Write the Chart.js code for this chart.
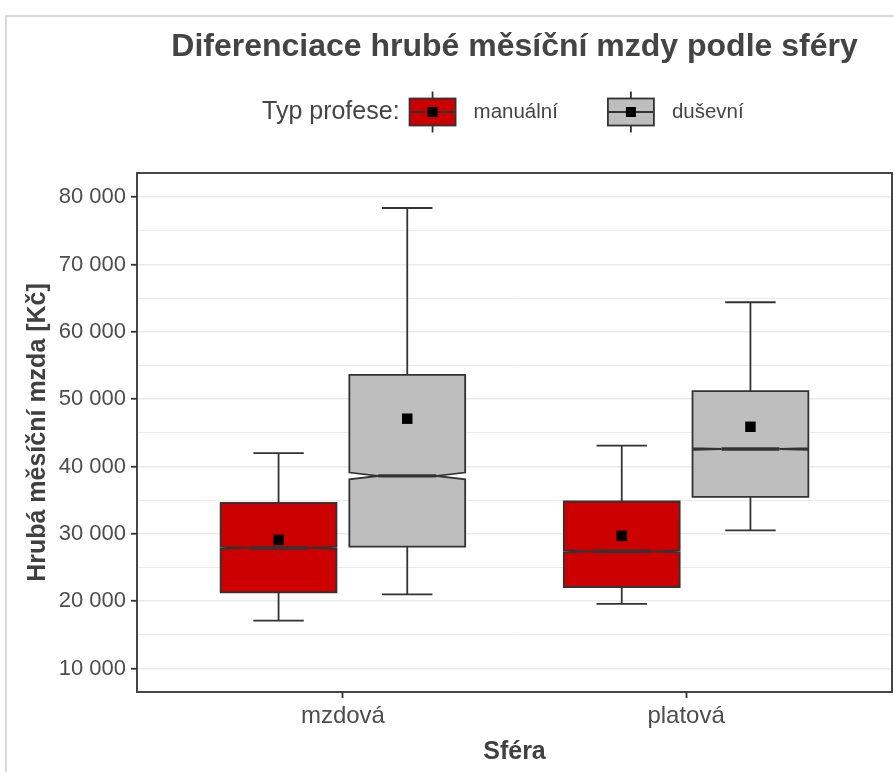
<!DOCTYPE html>
<html><head><meta charset="utf-8">
<script src="https://cdn.jsdelivr.net/npm/chart.js@4"></script>
<style>
html,body{margin:0;padding:0;background:#fff;}
#wrap{position:relative;width:894px;height:772px;overflow:hidden;background:#fff;}
#frame{position:absolute;left:5px;top:15px;width:900px;height:800px;border-left:2px solid #dadada;border-top:2px solid #dadada;box-sizing:border-box;}
canvas{position:absolute;left:0;top:0;}
</style></head>
<body><div id="wrap"><div id="frame"></div><canvas id="c" width="894" height="772"></canvas></div>
<script>
// ---- data ----
const categories = ['mzdová', 'platová'];
const seriesNames = ['manuální', 'duševní'];
const legendTitle = 'Typ profese:';

const manualMin    = [17100, 19600];
const manualQ1     = [21300, 22100];
const manualMedian = [27900, 27400];
const manualQ3     = [34600, 34800];
const manualMax    = [42000, 43100];
const manualMean   = [29100, 29700];
const manualNotch  = [150, 150];

const dusevniMin    = [21000, 30500];
const dusevniQ1     = [28100, 35500];
const dusevniMedian = [38600, 42600];
const dusevniQ3     = [53600, 51200];
const dusevniMax    = [78400, 64400];
const dusevniMean   = [47100, 45900];
const dusevniNotch  = [500, 130];

const yGridValues = [10000, 15000, 20000, 25000, 30000, 35000, 40000, 45000, 50000, 55000, 60000, 65000, 70000, 75000, 80000];
const yTickValues = [10000, 20000, 30000, 40000, 50000, 60000, 70000, 80000];
const yTickLabels = ['10 000', '20 000', '30 000', '40 000', '50 000', '60 000', '70 000', '80 000'];

// ---- styling / layout constants ----
const FONT = '"Liberation Sans", Arial, sans-serif';
const DODGE = 0.1875, BOXW = 0.3375, CAPW = 0.147;
const LINE = '#333333';
const LW = 1.8;
const fills = ['#CC0000', '#BEBEBE'];

const stats = [
  {min: manualMin, q1: manualQ1, med: manualMedian, q3: manualQ3, max: manualMax, notch: manualNotch},
  {min: dusevniMin, q1: dusevniQ1, med: dusevniMedian, q3: dusevniQ3, max: dusevniMax, notch: dusevniNotch}
];
const means = [manualMean, dusevniMean];
const offsets = [-DODGE, DODGE];

const datasets = seriesNames.map((name, s) => ({
  label: name,
  data: categories.map((c, i) => ({x: i + 1 + offsets[s], y: means[s][i]})),
  backgroundColor: fills[s],
  pointStyle: 'rect',
  pointRadius: 7.4,
  pointHoverRadius: 7.4,
  pointBackgroundColor: '#000',
  pointBorderColor: '#000',
  pointBorderWidth: 0
}));

const boxPlugin = {
  id: 'boxes',
  beforeDatasetsDraw(chart) {
    const {ctx, scales: {x, y}} = chart;
    ctx.save();
    ctx.strokeStyle = LINE;
    ctx.lineJoin = 'miter';
    stats.forEach((st, s) => {
      categories.forEach((c, i) => {
        const cx = i + 1 + offsets[s];
        const xc = x.getPixelForValue(cx);
        const L = x.getPixelForValue(cx - BOXW / 2), R = x.getPixelForValue(cx + BOXW / 2);
        const cL = x.getPixelForValue(cx - CAPW / 2), cR = x.getPixelForValue(cx + CAPW / 2);
        const yMin = y.getPixelForValue(st.min[i]), yMax = y.getPixelForValue(st.max[i]);
        const yQ1 = y.getPixelForValue(st.q1[i]), yQ3 = y.getPixelForValue(st.q3[i]);
        const yMed = y.getPixelForValue(st.med[i]);
        const yNu = y.getPixelForValue(st.med[i] + st.notch[i]);
        const yNl = y.getPixelForValue(st.med[i] - st.notch[i]);
        const ind = (R - L) * 0.25;
        ctx.lineWidth = LW;
        ctx.beginPath();
        ctx.moveTo(xc, yQ3); ctx.lineTo(xc, yMax);
        ctx.moveTo(xc, yQ1); ctx.lineTo(xc, yMin);
        ctx.moveTo(cL, yMax); ctx.lineTo(cR, yMax);
        ctx.moveTo(cL, yMin); ctx.lineTo(cR, yMin);
        ctx.stroke();
        ctx.beginPath();
        ctx.moveTo(L, yQ3); ctx.lineTo(L, yNu); ctx.lineTo(L + ind, yMed); ctx.lineTo(L, yNl);
        ctx.lineTo(L, yQ1); ctx.lineTo(R, yQ1); ctx.lineTo(R, yNl); ctx.lineTo(R - ind, yMed);
        ctx.lineTo(R, yNu); ctx.lineTo(R, yQ3); ctx.closePath();
        ctx.fillStyle = fills[s];
        ctx.fill();
        ctx.stroke();
        ctx.lineWidth = 3.4;
        ctx.beginPath();
        ctx.moveTo(L + ind, yMed); ctx.lineTo(R - ind, yMed);
        ctx.stroke();
      });
    });
    ctx.restore();
  },
  afterDatasetsDraw(chart) {
    const {ctx, chartArea: a} = chart;
    ctx.save();
    ctx.strokeStyle = LINE;
    ctx.lineWidth = LW;
    ctx.strokeRect(a.left, a.top, a.right - a.left, a.bottom - a.top);
    ctx.restore();
  }
};

function drawKey(ctx, x, cy, fill) {
  const w = 46, h = 27, wh = 7;
  ctx.strokeStyle = LINE;
  ctx.lineWidth = LW;
  ctx.beginPath();
  ctx.moveTo(x + w / 2, cy - h / 2 - wh); ctx.lineTo(x + w / 2, cy - h / 2);
  ctx.moveTo(x + w / 2, cy + h / 2); ctx.lineTo(x + w / 2, cy + h / 2 + wh);
  ctx.stroke();
  ctx.fillStyle = fill;
  ctx.fillRect(x, cy - h / 2, w, h);
  ctx.strokeRect(x, cy - h / 2, w, h);
  ctx.beginPath(); ctx.moveTo(x, cy); ctx.lineTo(x + w, cy); ctx.stroke();
  ctx.fillStyle = '#000';
  ctx.fillRect(x + w / 2 - 5, cy - 5, 10, 10);
}

const legendPlugin = {
  id: 'typLegend',
  afterDraw(chart) {
    const ctx = chart.ctx;
    const cy = 112, startX = 262;
    const keyW = 46, gapTitle = 10, gapKey = 18, gapItem = 50;
    ctx.save();
    ctx.textBaseline = 'middle';
    ctx.textAlign = 'left';
    let xx = startX;
    ctx.fillStyle = '#444444';
    ctx.font = '25px ' + FONT;
    ctx.fillText(legendTitle, xx, cy);
    xx += ctx.measureText(legendTitle).width + gapTitle;
    chart.data.datasets.forEach((d) => {
      drawKey(ctx, xx, cy, d.backgroundColor);
      xx += keyW + gapKey;
      ctx.fillStyle = '#444444';
      ctx.font = '20.5px ' + FONT;
      ctx.fillText(d.label, xx, cy);
      xx += ctx.measureText(d.label).width + gapItem;
    });
    ctx.restore();
  }
};

new Chart(document.getElementById('c'), {
  type: 'scatter',
  data: {datasets},
  options: {
    responsive: false,
    animation: false,
    events: [],
    layout: {autoPadding: false, padding: {left: 0, right: 2, top: 0, bottom: 0}},
    plugins: {
      legend: {display: false},
      tooltip: {enabled: false},
      title: {
        display: true,
        text: 'Diferenciace hrubé měsíční mzdy podle sféry',
        fullSize: false,
        color: '#444444',
        font: {family: FONT, size: 32, weight: 'bold'},
        padding: {top: 28, bottom: 106.6}
      }
    },
    scales: {
      x: {
        type: 'linear',
        min: 0.4, max: 2.6,
        afterBuildTicks: (sc) => { sc.ticks = categories.map((c, i) => ({value: i + 1})); },
        afterFit: (sc) => { sc.height = 80; sc.paddingLeft = 0; sc.paddingRight = 0; },
        ticks: {
          callback: (v) => categories[v - 1] || '',
          font: {family: FONT, size: 24},
          color: '#4d4d4d',
          padding: 4,
          autoSkip: false,
          maxRotation: 0
        },
        grid: {drawOnChartArea: false, drawTicks: true, tickLength: 6, tickColor: LINE, tickWidth: LW},
        border: {display: false},
        title: {
          display: true, text: 'Sféra', color: '#404040',
          font: {family: FONT, size: 25, weight: 'bold'},
          padding: {top: 0, bottom: 5}
        }
      },
      y: {
        min: 6500, max: 83600,
        afterBuildTicks: (sc) => { sc.ticks = yGridValues.map(v => ({value: v})); },
        afterFit: (sc) => { sc.width = 137; sc.paddingTop = 0; sc.paddingBottom = 0; },
        ticks: {
          callback: (v) => { const k = yTickValues.indexOf(v); return k >= 0 ? yTickLabels[k] : ''; },
          font: {family: FONT, size: 22},
          color: '#4d4d4d',
          padding: 5,
          autoSkip: false
        },
        grid: {
          color: '#ebebeb',
          lineWidth: (c) => (c.tick && yTickValues.includes(c.tick.value)) ? 1.5 : 1,
          tickLength: 6,
          tickWidth: LW,
          tickColor: (c) => (c.tick && yTickValues.includes(c.tick.value)) ? LINE : 'rgba(0,0,0,0)'
        },
        border: {display: false},
        title: {
          display: true, text: 'Hrubá měsíční mzda [Kč]', color: '#404040',
          font: {family: FONT, size: 25, weight: 'bold'},
          padding: {top: 23, bottom: 0}
        }
      }
    }
  },
  plugins: [boxPlugin, legendPlugin]
});
</script>
</body></html>
